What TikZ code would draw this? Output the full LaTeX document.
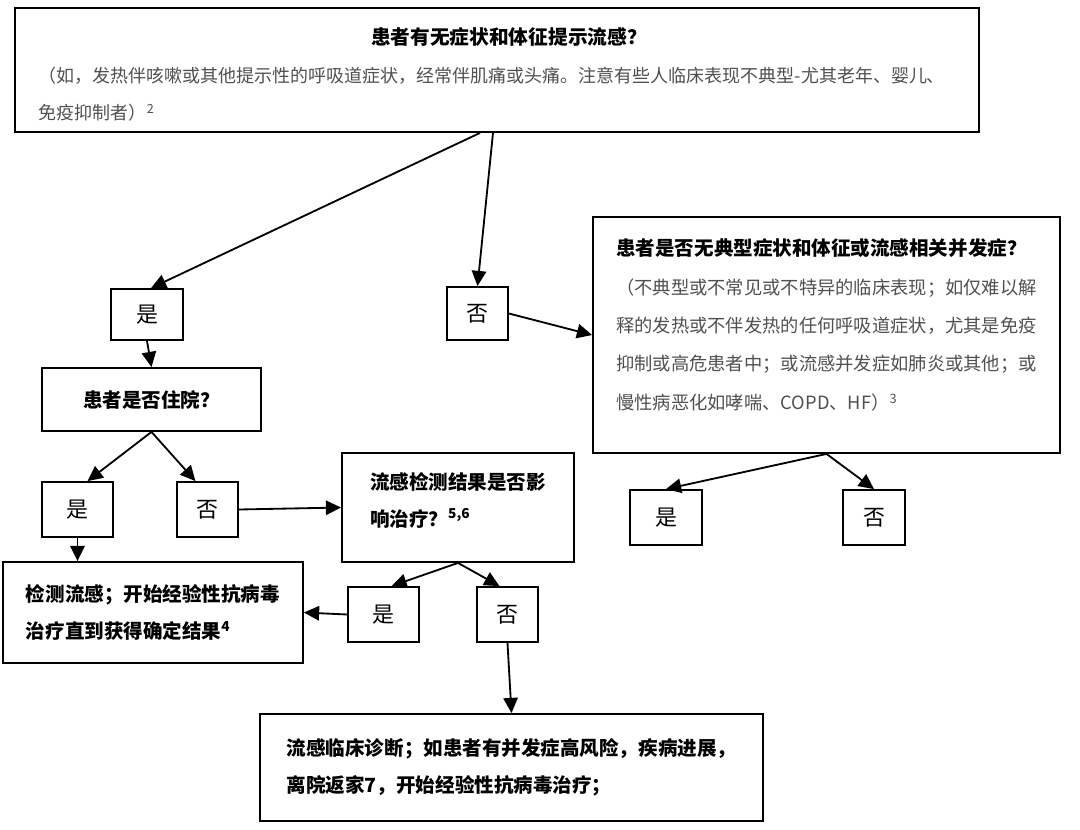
\documentclass[tikz,border=0pt]{standalone}
\usepackage{fontspec}
\setmainfont{Noto Sans CJK SC}
\usetikzlibrary{arrows.meta,positioning,calc}
\definecolor{note}{HTML}{505050}
\begin{document}
\begin{tikzpicture}[x=0.25mm,y=-0.25mm,>={Triangle[length=3.8mm,width=3.6mm]},
  box/.style={draw,line width=1.3pt,inner sep=0pt,align=left,font=\fontsize{13.9pt}{26.3pt}\selectfont\bfseries},
  yn/.style={draw,line width=1.3pt,inner sep=0pt,font=\fontsize{15.6pt}{18pt}\selectfont},
  arr/.style={->,line width=1.3pt}]
\useasboundingbox (0,0) rectangle (1080,829);
\node[box,minimum width=241mm,minimum height=31mm,text width=229mm,font=\fontsize{12.8pt}{26.5pt}\selectfont\color{note}] (top) at (497,70)
  {\makebox[\linewidth]{\hspace{6mm}\color{black}\fontsize{14pt}{26.5pt}\selectfont\bfseries 患者有无症状和体征提示流感？\rule{0pt}{6.5mm}}\\
  （如，发热伴咳嗽或其他提示性的呼吸道症状，经常伴肌痛或头痛。注意有些人临床表现不典型-尤其老年、婴儿、\\
  免疫抑制者）\textsuperscript{2}};
\node[yn,minimum width=18mm,minimum height=12.75mm] (yes1) at (147,314.5) {是};
\node[yn,minimum width=15.25mm,minimum height=13.25mm] (no1) at (477.5,313.5) {否};
\node[box,minimum width=116.75mm,minimum height=59mm,font=\fontsize{13pt}{27.3pt}\selectfont\color{note}] (q2) at (826.5,335)
  {{\color{black}\fontsize{13.9pt}{27.3pt}\selectfont\bfseries 患者是否无典型症状和体征或流感相关并发症？}\\
  （不典型或不常见或不特异的临床表现；如仅难以解\\
  释的发热或不伴发热的任何呼吸道症状，尤其是免疫\\
  抑制或高危患者中；或流感并发症如肺炎或其他；或\\
  慢性病恶化如哮喘、COPD、HF）\textsuperscript{3}\rule[-5.5mm]{0pt}{0pt}};
\node[yn,minimum width=18mm,minimum height=13.75mm] (yes2) at (666,517.5) {是};
\node[yn,minimum width=15.5mm,minimum height=13.75mm] (no2) at (874,517.5) {否};
\node[box,minimum width=54.75mm,minimum height=15.75mm] (hosp) at (151.5,399.5) {患者是否住院？};
\node[yn,minimum width=17.75mm,minimum height=13.75mm] (yes3) at (77.5,509.5) {是};
\node[yn,minimum width=15.25mm,minimum height=13.75mm] (no3) at (207.5,509.5) {否};
\node[box,minimum width=58mm,minimum height=27.25mm] (test) at (458,507.5)
  {流感检测结果是否影\\响治疗？\textsuperscript{5,6}\rule[-4.2mm]{0pt}{0pt}};
\node[box,minimum width=75mm,minimum height=25.25mm] (empiric) at (153,612.5)
  {检测流感；开始经验性抗病毒\\治疗直到获得确定结果\textsuperscript{4}};
\node[yn,minimum width=17.75mm,minimum height=13.75mm] (yes4) at (383.5,614.5) {是};
\node[yn,minimum width=15.25mm,minimum height=13.75mm] (no4) at (507.5,614.5) {否};
\node[box,minimum width=125.75mm,minimum height=26.75mm] (diag) at (511.5,767.5)
  {流感临床诊断；如患者有并发症高风险，疾病进展，\\离院返家7，开始经验性抗病毒治疗；};
\draw[arr] ([xshift=-4.25mm]top.south) -- ([xshift=1mm]yes1.north);
\draw[arr] ([xshift=-1mm]top.south) -- (no1.north);
\draw[arr] (no1.east) -- (q2.west);
\draw[arr] (q2.south) -- (yes2.north);
\draw[arr] (q2.south) -- (no2.north);
\draw[arr] (yes1.south) -- (hosp.north);
\draw[arr] (hosp.south) -- ([xshift=2.5mm]yes3.north);
\draw[arr] (hosp.south) -- ([xshift=-3mm]no3.north);
\draw[arr] (no3.east) -- (test.west);
\draw[arr] (yes3.south) -- (yes3.south |- empiric.north);
\draw[arr] (test.south) -- ([xshift=2mm]yes4.north);
\draw[arr] (test.south) -- ([xshift=-2mm]no4.north);
\draw[arr] (yes4.west) -- (empiric.east);
\draw[arr] (no4.south) -- (diag.north);
\end{tikzpicture}
\end{document}
